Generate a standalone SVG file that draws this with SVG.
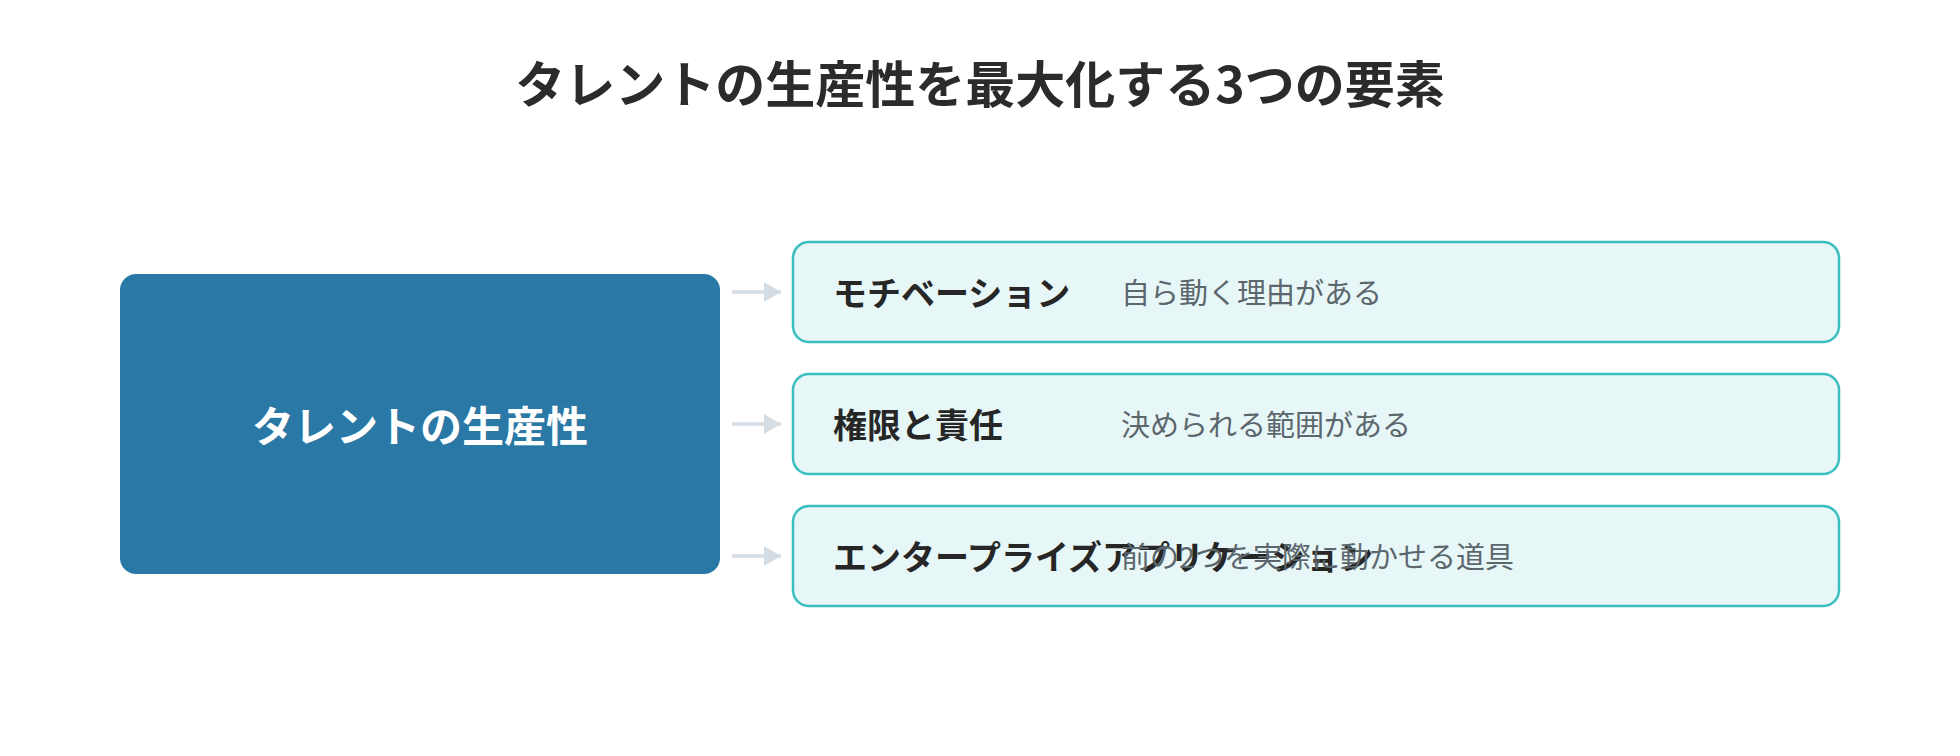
<svg xmlns="http://www.w3.org/2000/svg" width="1960" height="756" viewBox="0 0 1960 756">
  <defs>
    <style>
      text { font-family: "Noto Sans CJK JP", "Noto Sans", sans-serif; dominant-baseline: central; }
      .title { font-size: 50px; font-weight: 700; fill: #2b2b2b; text-anchor: middle; }
      .hub { fill: #2a78a5; }
      .hubtext { font-size: 42px; font-weight: 700; fill: #ffffff; text-anchor: middle; }
      .card { fill: #e7f7f7; stroke: #3bbebe; stroke-width: 2.5; }
      .label { font-size: 34px; font-weight: 700; fill: #262626; }
      .desc { font-size: 29px; font-weight: 400; fill: #5c666d; }
      .conn { stroke: #d4dce4; stroke-width: 3.5; fill: none; }
    </style>
    <marker id="ah" viewBox="0 0 17 20" refX="17" refY="10" markerWidth="17" markerHeight="20" markerUnits="userSpaceOnUse" orient="auto">
      <path d="M0,0 L17,10 L0,20 Z" fill="#d4dce4"/>
    </marker>
  </defs>
  <rect width="1960" height="756" fill="#ffffff"/>
  <g id="title">
    <text class="title" x="980" y="81">タレントの生産性を最大化する3つの要素</text>
  </g>
  <g id="hub">
    <rect class="hub" x="120" y="274" width="600" height="300" rx="16"/>
    <text class="hubtext" x="420" y="423">タレントの生産性</text>
  </g>
  <g id="connectors">
    <line class="conn" x1="732" y1="292" x2="781" y2="292" marker-end="url(#ah)"/>
    <line class="conn" x1="732" y1="424" x2="781" y2="424" marker-end="url(#ah)"/>
    <line class="conn" x1="732" y1="556" x2="781" y2="556" marker-end="url(#ah)"/>
  </g>
  <g id="card-motivation">
    <rect class="card" x="793" y="242" width="1046" height="100" rx="16"/>
    <text class="label" x="833" y="291">モチベーション</text>
    <text class="desc" x="1121" y="291">自ら動く理由がある</text>
  </g>
  <g id="card-authority">
    <rect class="card" x="793" y="374" width="1046" height="100" rx="16"/>
    <text class="label" x="833" y="423">権限と責任</text>
    <text class="desc" x="1121" y="423">決められる範囲がある</text>
  </g>
  <g id="card-enterprise-app">
    <rect class="card" x="793" y="506" width="1046" height="100" rx="16"/>
    <text class="label" x="833" y="555">エンタープライズアプリケーション</text>
    <text class="desc" x="1121" y="555">前の2つを実際に動かせる道具</text>
  </g>
</svg>
